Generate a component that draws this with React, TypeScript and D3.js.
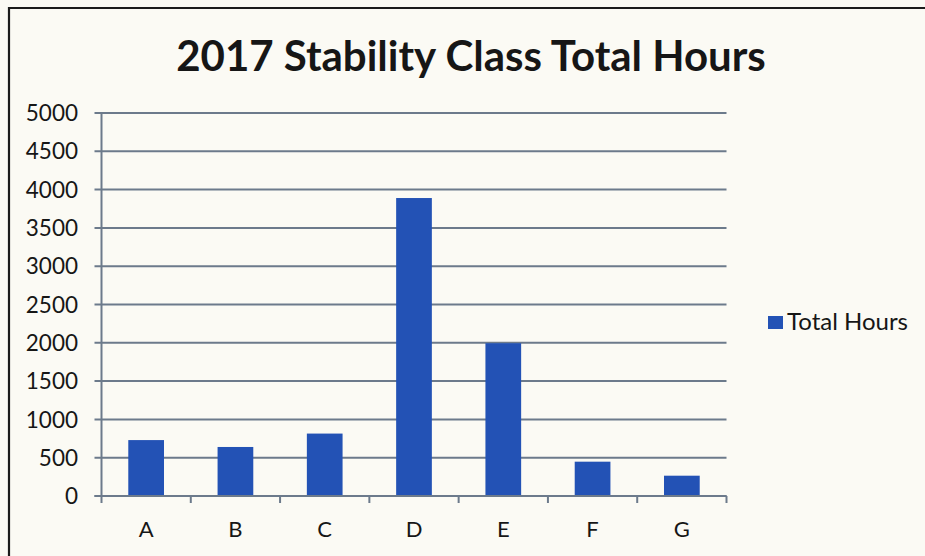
import React from "react";
import * as d3 from "d3";

const categories = ["A", "B", "C", "D", "E", "F", "G"];
const totalHours = [730, 640, 815, 3890, 1995, 448, 265];
const yTicks = [0, 500, 1000, 1500, 2000, 2500, 3000, 3500, 4000, 4500, 5000];
const title = "2017 Stability Class Total Hours";
const seriesName = "Total Hours";

const W = 925;
const H = 556;
const plot = { left: 101.5, right: 726.5, top: 113, bottom: 496 };
const gridColor = "#6c7a8b";
const barColor = "#2352b5";
const textColor = "#161616";
const font = "Lato, 'Open Sans', sans-serif";

export default function App() {
  const x = d3
    .scaleBand<string>()
    .domain(categories)
    .range([plot.left, plot.right])
    .paddingInner(0.6)
    .paddingOuter(0.3);
  const band = (plot.right - plot.left) / categories.length;
  const y = d3.scaleLinear().domain([0, 5000]).range([plot.bottom, plot.top]);

  return (
    <svg
      width={W}
      height={H}
      style={{ position: "absolute", left: 0, top: 0, display: "block" }}
    >
      <rect x={0} y={0} width={W} height={H} fill="#fbfaf4" />
      <path
        d={`M9,${H + 5} V8 H${W + 5}`}
        fill="none"
        stroke="#1b1b1b"
        strokeWidth={2.2}
      />
      <text
        x={471}
        y={71}
        textAnchor="middle"
        fontFamily={font}
        fontWeight={700}
        fontSize={42}
        fill={textColor}
      >
        {title}
      </text>
      {yTicks.map((t) => (
        <g key={t}>
          <line
            x1={plot.left - 7}
            x2={plot.right}
            y1={y(t)}
            y2={y(t)}
            stroke={gridColor}
            strokeWidth={2}
          />
          <text
            x={78}
            y={y(t)}
            dy="0.36em"
            textAnchor="end"
            fontFamily={font}
            fontSize={22.5}
            fill={textColor}
          >
            {t}
          </text>
        </g>
      ))}
      <line
        x1={plot.left}
        x2={plot.left}
        y1={plot.top}
        y2={plot.bottom}
        stroke={gridColor}
        strokeWidth={2}
      />
      {d3.range(categories.length + 1).map((i) => (
        <line
          key={i}
          x1={plot.left + i * band}
          x2={plot.left + i * band}
          y1={plot.bottom}
          y2={plot.bottom + 7}
          stroke={gridColor}
          strokeWidth={2}
        />
      ))}
      {categories.map((c, i) => (
        <rect
          key={c}
          x={x(c)}
          y={y(totalHours[i])}
          width={x.bandwidth()}
          height={y(0) - y(totalHours[i])}
          fill={barColor}
        />
      ))}
      <line
        x1={plot.left - 7}
        x2={plot.right}
        y1={plot.bottom}
        y2={plot.bottom}
        stroke={gridColor}
        strokeWidth={2}
      />
      {categories.map((c) => (
        <text
          key={c}
          x={(x(c) as number) + x.bandwidth() / 2}
          y={537}
          textAnchor="middle"
          fontFamily={font}
          fontSize={22}
          fill={textColor}
        >
          {c}
        </text>
      ))}
      <rect x={768} y={316} width={15} height={13} fill={barColor} />
      <text
        x={787}
        y={329.5}
        fontFamily={font}
        fontSize={24}
        fill={textColor}
      >
        {seriesName}
      </text>
    </svg>
  );
}
